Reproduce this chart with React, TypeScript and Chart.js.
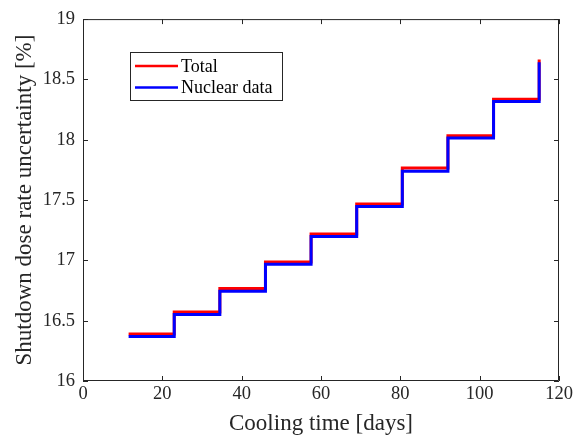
import React, { useEffect, useRef } from "react";
import { Chart, registerables } from "chart.js";

Chart.register(...registerables);

const stepStarts = [11.5, 23, 34.5, 46, 57.5, 69, 80.5, 92, 103.5, 115];
const totalValues = [16.39, 16.573, 16.766, 16.987, 17.219, 17.468, 17.765, 18.032, 18.336, 18.665];
const nuclearValues = [16.368, 16.551, 16.745, 16.967, 17.197, 17.447, 17.738, 18.015, 18.317, 18.643];
const xTicks = [0, 20, 40, 60, 80, 100, 120];
const yTicks = [16, 16.5, 17, 17.5, 18, 18.5, 19];
const seriesLabels = ["Total", "Nuclear data"];
const seriesColors = ["#ff0000", "#0000ff"];

const FONT = "'Liberation Serif', 'Times New Roman', serif";
const AXIS = "#262626";
const TEXT = "#262626";

const boxPlugin = {
  id: "matlabBox",
  afterDatasetsDraw(chart: any) {
    const { ctx, chartArea: a, scales } = chart;
    const xs = scales.x;
    const ys = scales.y;
    ctx.save();
    ctx.strokeStyle = AXIS;
    ctx.lineWidth = 1;
    ctx.beginPath();
    ctx.rect(a.left + 0.5, a.top + 0.5, a.right - a.left - 1, a.bottom - a.top - 1);
    ctx.stroke();
    const tl = 5;
    ctx.beginPath();
    xTicks.forEach((v) => {
      const px = Math.round(xs.getPixelForValue(v)) + 0.5;
      ctx.moveTo(px, a.bottom);
      ctx.lineTo(px, a.bottom - tl);
      ctx.moveTo(px, a.top);
      ctx.lineTo(px, a.top + tl);
    });
    yTicks.forEach((v) => {
      const py = Math.round(ys.getPixelForValue(v)) + 0.5;
      ctx.moveTo(a.left, py);
      ctx.lineTo(a.left + tl, py);
      ctx.moveTo(a.right, py);
      ctx.lineTo(a.right - tl, py);
    });
    ctx.stroke();

    // legend box
    const lx = 130, ly = 52, lw = 152, lh = 48;
    ctx.fillStyle = "#ffffff";
    ctx.fillRect(lx, ly, lw, lh);
    ctx.strokeStyle = AXIS;
    ctx.strokeRect(lx + 0.5, ly + 0.5, lw, lh);
    ctx.font = `18px ${FONT}`;
    ctx.textBaseline = "middle";
    ctx.textAlign = "left";
    chart.data.datasets.forEach((ds: any, i: number) => {
      const y = ly + 14 + i * 21.5;
      ctx.strokeStyle = ds.borderColor;
      ctx.lineWidth = 2.5;
      ctx.beginPath();
      ctx.moveTo(lx + 5, y);
      ctx.lineTo(lx + 48, y);
      ctx.stroke();
      ctx.fillStyle = "#000000";
      ctx.fillText(ds.label, lx + 51, y + 1);
    });
    ctx.restore();
  },
};

export default function App() {
  const ref = useRef<HTMLCanvasElement | null>(null);
  useEffect(() => {
    if (!ref.current) return;
    const mk = (vals: number[]) => stepStarts.map((x, i) => ({ x, y: vals[i] }));
    const chart = new Chart(ref.current, {
      type: "line",
      data: {
        datasets: [
          {
            label: seriesLabels[0],
            data: mk(totalValues),
            borderColor: seriesColors[0],
            backgroundColor: seriesColors[0],
            borderWidth: 3,
            pointRadius: 0,
            stepped: "before",
            fill: false,
            order: 2,
          },
          {
            label: seriesLabels[1],
            data: mk(nuclearValues),
            borderColor: seriesColors[1],
            backgroundColor: seriesColors[1],
            borderWidth: 3,
            pointRadius: 0,
            stepped: "before",
            fill: false,
            order: 1,
          },
        ],
      },
      options: {
        animation: false,
        responsive: false,
        devicePixelRatio: 1,
        layout: { padding: { left: 0, top: 13, right: 16, bottom: 0 } },
        plugins: { legend: { display: false }, tooltip: { enabled: false } },
        scales: {
          x: {
            type: "linear",
            min: 0,
            max: 120,
            afterBuildTicks: (s: any) => {
              s.ticks = xTicks.map((v) => ({ value: v }));
            },
            afterFit: (s: any) => {
              s.height = 57;
            },
            grid: { display: false, drawTicks: false },
            border: { display: false },
            ticks: {
              color: TEXT,
              font: { family: FONT, size: 18.5 },
              padding: 2,
              maxRotation: 0,
            },
            title: {
              display: true,
              text: "Cooling time [days]",
              color: TEXT,
              font: { family: FONT, size: 23 },
              padding: { top: 0, bottom: 0 },
            },
          },
          y: {
            type: "linear",
            min: 16,
            max: 19,
            afterBuildTicks: (s: any) => {
              s.ticks = yTicks.map((v) => ({ value: v }));
            },
            afterFit: (s: any) => {
              s.width = 83;
            },
            grid: { display: false, drawTicks: false },
            border: { display: false },
            ticks: {
              color: TEXT,
              font: { family: FONT, size: 18.5 },
              padding: 8,
              callback: (v: any) => String(v),
            },
            title: {
              display: true,
              text: "Shutdown dose rate uncertainty [%]",
              color: TEXT,
              font: { family: FONT, size: 23 },
              padding: { top: 11, bottom: 0 },
            },
          },
        },
      },
      plugins: [boxPlugin],
    });
    return () => chart.destroy();
  }, []);
  return (
    <div style={{ position: "fixed", left: 0, top: 0, width: 575, height: 438, background: "#fff" }}>
      <canvas ref={ref} width={575} height={438} style={{ width: 575, height: 438 }} />
    </div>
  );
}
